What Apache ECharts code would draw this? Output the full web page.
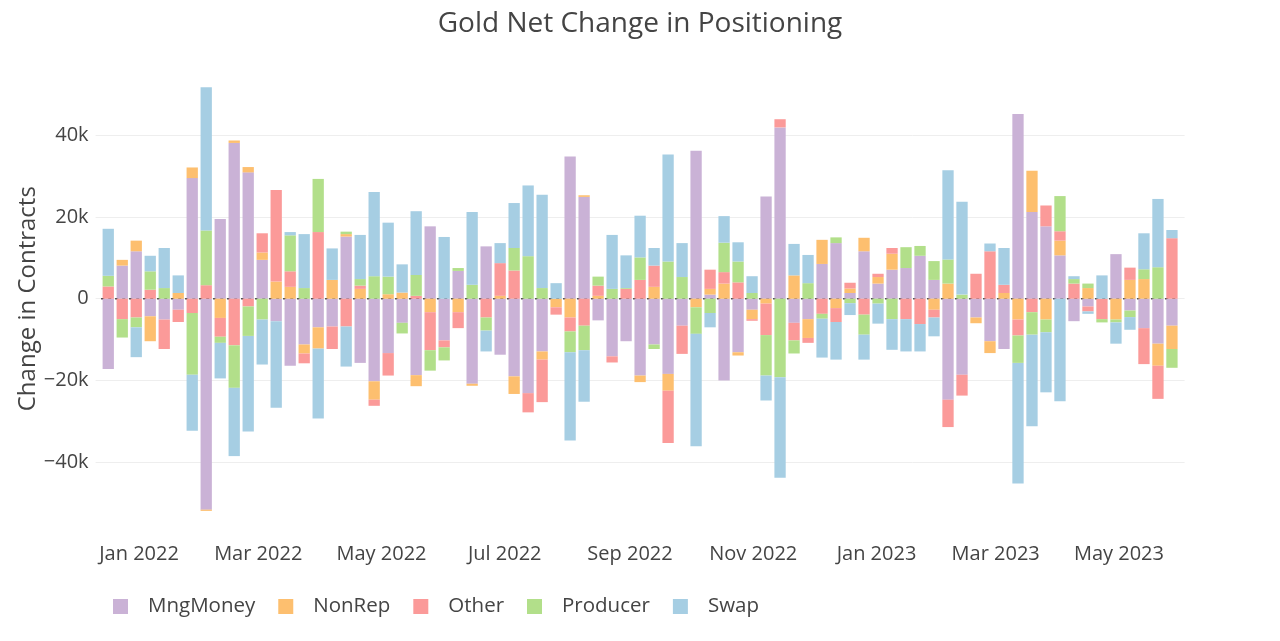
<!DOCTYPE html>
<html>
<head>
<meta charset="utf-8">
<script src="https://cdn.jsdelivr.net/npm/echarts@6/dist/echarts.min.js"></script>
<style>
html,body{margin:0;padding:0;background:#fff;}
#chart{width:1280px;height:641px;}
</style>
</head>
<body>
<div id="chart"></div>
<script>
// Weekly report dates (Tuesdays)
const dates = [
 '2021-12-14','2021-12-21','2021-12-28','2022-01-04','2022-01-11','2022-01-18','2022-01-25',
 '2022-02-01','2022-02-08','2022-02-15','2022-02-22','2022-03-01','2022-03-08','2022-03-15',
 '2022-03-22','2022-03-29','2022-04-05','2022-04-12','2022-04-19','2022-04-26','2022-05-03',
 '2022-05-10','2022-05-17','2022-05-24','2022-05-31','2022-06-07','2022-06-14','2022-06-21',
 '2022-06-28','2022-07-05','2022-07-12','2022-07-19','2022-07-26','2022-08-02','2022-08-09',
 '2022-08-16','2022-08-23','2022-08-30','2022-09-06','2022-09-13','2022-09-20','2022-09-27',
 '2022-10-04','2022-10-11','2022-10-18','2022-10-25','2022-11-01','2022-11-08','2022-11-15',
 '2022-11-22','2022-11-29','2022-12-06','2022-12-13','2022-12-20','2022-12-27','2023-01-03',
 '2023-01-10','2023-01-17','2023-01-24','2023-01-31','2023-02-07','2023-02-14','2023-02-21',
 '2023-02-28','2023-03-07','2023-03-14','2023-03-21','2023-03-28','2023-04-04','2023-04-11',
 '2023-04-18','2023-04-25','2023-05-02','2023-05-09','2023-05-16','2023-05-23','2023-05-30'
];

// Net change per week, thousands of contracts
const mngMoney = [-17.2,8.1,11.6,-4.3,-5.1,-2.7,29.5,-51.6,19.5,38.1,30.9,9.5,-5.5,-16.4,-11.2,-7.0,-6.8,15.2,-15.7,-20.2,-13.3,-5.9,-18.7,17.7,-10.2,6.8,-20.8,12.8,-13.7,-19.0,-23.1,-12.9,0,34.8,24.9,-5.3,-14.1,-10.4,-18.8,-11.2,-18.4,-6.6,36.2,1.0,-20.0,-13.1,-2.7,25.0,41.9,-5.9,-5.0,8.5,13.6,1.4,11.6,3.7,7.1,7.5,10.5,4.6,-24.7,-18.6,-4.6,-10.4,-12.3,45.2,21.2,17.7,10.6,-5.5,-1.9,0,10.9,-2.9,-7.2,-11.0,-6.6];
const nonRep = [0,1.4,2.6,-6.1,0,1.4,2.6,-0.3,-4.7,0.6,1.3,1.8,4.2,2.9,-2.2,-5.2,4.6,0.6,2.4,-4.5,1.1,1.5,-2.7,-3.3,0,-3.3,-0.5,0,0.7,-4.3,0,-2.0,-2.1,-4.6,0.4,0.7,0,0,-1.6,2.9,-4.1,0,-2.1,1.4,3.7,-0.8,-2.3,-1.2,0,5.7,-4.6,5.9,-2.3,1.1,3.3,1.6,3.9,0,0,-2.7,3.7,0,-1.4,-2.9,1.4,-5.1,10.1,-5.1,3.6,0,2.6,0,-5.1,4.6,4.8,-5.4,-5.7];
const other = [3.0,-5.0,-4.6,2.2,-7.2,-3.0,-3.5,3.3,-4.6,-11.4,-1.9,4.7,22.4,3.8,-2.4,16.3,-5.5,-6.8,0.8,-1.5,-5.5,0,0.7,-9.3,-1.7,-3.9,0,-4.6,8.0,6.9,-4.7,-10.4,-1.8,-3.4,-6.6,2.5,-1.5,2.4,4.6,5.2,-12.8,-6.9,0,4.7,2.8,4.0,-0.4,-7.7,2.0,-4.3,-1.2,-3.7,-3.4,1.4,-3.9,0.8,1.4,-5.0,-6.2,-1.9,-6.7,-5.1,6.1,11.6,2.0,-3.9,-3.3,5.1,2.3,3.7,-1.2,-5.0,0,3.0,-8.8,-8.1,14.8];
const producer = [2.6,-4.5,-2.4,4.5,2.6,0,-15.1,13.4,-1.5,-10.4,-7.2,-5.1,0,8.8,2.6,13.0,0,0.6,1.6,5.5,4.3,-2.6,5.1,-5.0,-3.2,0.7,3.4,-3.2,0,5.5,10.4,2.6,0,-5.1,-6.0,2.2,2.4,0.2,5.5,-1.1,9.1,5.3,-6.5,-3.5,7.2,5.1,1.4,-9.9,-19.2,-3.2,3.8,-1.2,1.4,-1.1,-4.9,-1.2,-5.0,5.1,2.4,4.6,5.9,1.0,0,0,0,-6.7,-5.5,-3.1,8.6,1.1,1.1,-0.8,-0.7,-1.6,2.4,7.7,-4.6];
const swap = [11.5,0,-7.3,3.8,9.8,4.3,-13.7,35.0,-8.7,-16.7,-23.4,-11.0,-21.2,0.8,13.2,-17.1,7.7,-9.8,10.8,20.6,13.2,6.9,15.6,0,15.1,0,17.8,-5.1,4.9,11.0,17.3,22.8,3.8,-21.6,-12.6,0,13.2,8.0,10.2,4.3,26.2,8.3,-27.5,-3.5,6.5,4.7,4.1,-6.1,-24.6,7.7,6.9,-9.5,-9.2,-2.9,-6.1,-4.9,-7.5,-7.9,-6.7,-4.6,21.8,22.7,0,1.9,9.0,-29.5,-22.4,-14.7,-25.1,0.7,-0.6,5.7,-5.2,-3.1,8.8,16.7,2.0];

const seriesNames = ['MngMoney','NonRep','Other','Producer','Swap'];
const seriesValues = [mngMoney, nonRep, other, producer, swap];
const seriesColors = ['#cab2d6','#fdbf6f','#fb9a99','#b2df8a','#a6cee3'];

const xTickDates = ['2022-01-01','2022-03-01','2022-05-01','2022-07-01','2022-09-01','2022-11-01','2023-01-01','2023-03-01','2023-05-01'];
const monthNames = ['Jan','Feb','Mar','Apr','May','Jun','Jul','Aug','Sep','Oct','Nov','Dec'];
const xRange = ['2021-12-10T12:00:00Z','2023-06-02T12:00:00Z'];

const utc = s => new Date(s.length === 10 ? s + 'T00:00:00Z' : s).getTime();
const FONT = '"Open Sans", "Noto Sans", sans-serif';

const xMin = utc(xRange[0]), xMax = utc(xRange[1]);

const series = seriesNames.map((name, k) => ({
  name: name,
  type: 'bar',
  xAxisIndex: 0,
  stack: 'total',
  stackStrategy: 'samesign',
  barWidth: 11.3,
  itemStyle: { color: seriesColors[k] },
  emphasis: { disabled: true },
  data: dates.map((d, i) => [utc(d), seriesValues[k][i]])
}));

series.push({
  name: 'zero',
  type: 'line',
  xAxisIndex: 0,
  z: 1,
  silent: true,
  symbol: 'none',
  lineStyle: { color: '#222', width: 1.5, type: [3, 4] },
  data: [[xMin, 0], [xMax, 0]]
});

const chart = echarts.init(document.getElementById('chart'), null, { renderer: 'canvas' });
chart.setOption({
  animation: false,
  backgroundColor: '#ffffff',
  textStyle: { fontFamily: FONT },
  title: {
    text: 'Gold Net Change in Positioning',
    left: 'center',
    top: 5,
    textStyle: { fontFamily: FONT, fontSize: 28, fontWeight: 'normal', color: '#444' }
  },
  legend: {
    data: seriesNames,
    left: 108,
    top: 591,
    icon: 'rect',
    itemWidth: 15,
    itemHeight: 15,
    itemGap: 23,
    textStyle: { fontFamily: FONT, fontSize: 20.5, color: '#444', padding: [0, 0, 0, 15] }
  },
  grid: { left: 95.6, right: 95.4, top: 53.4, bottom: 97 },
  xAxis: [{
    type: 'time',
    min: xMin,
    max: xMax,
    axisLine: { show: false },
    axisTick: { show: false },
    splitLine: { show: false },
    axisLabel: { show: false }
  }, {
    type: 'value',
    position: 'bottom',
    min: xMin,
    max: xMax,
    axisLine: { show: false },
    axisTick: { show: false },
    splitLine: { show: false },
    axisLabel: {
      customValues: xTickDates.map(utc),
      margin: 0,
      fontFamily: FONT,
      fontSize: 20,
      color: '#444',
      formatter: v => { const d = new Date(v); return monthNames[d.getUTCMonth()] + ' ' + d.getUTCFullYear(); }
    }
  }],
  yAxis: {
    type: 'value',
    min: -60,
    max: 60,
    interval: 20,
    name: 'Change in Contracts',
    nameLocation: 'middle',
    nameGap: 55,
    nameMoveOverlap: false,
    nameTextStyle: { fontFamily: FONT, fontSize: 24, color: '#444' },
    axisLine: { show: false },
    axisTick: { show: false },
    splitLine: { show: true, showMinLine: false, showMaxLine: false, lineStyle: { color: '#eeeeee', width: 1 } },
    axisLabel: {
      showMinLabel: false,
      showMaxLabel: false,
      margin: 7,
      fontFamily: FONT,
      fontSize: 20,
      color: '#444',
      formatter: v => (Math.abs(v) >= 60 ? '' : v === 0 ? '0' : (v < 0 ? '\u2212' : '') + Math.abs(v) + 'k')
    }
  },
  series: series
});
</script>
</body>
</html>
